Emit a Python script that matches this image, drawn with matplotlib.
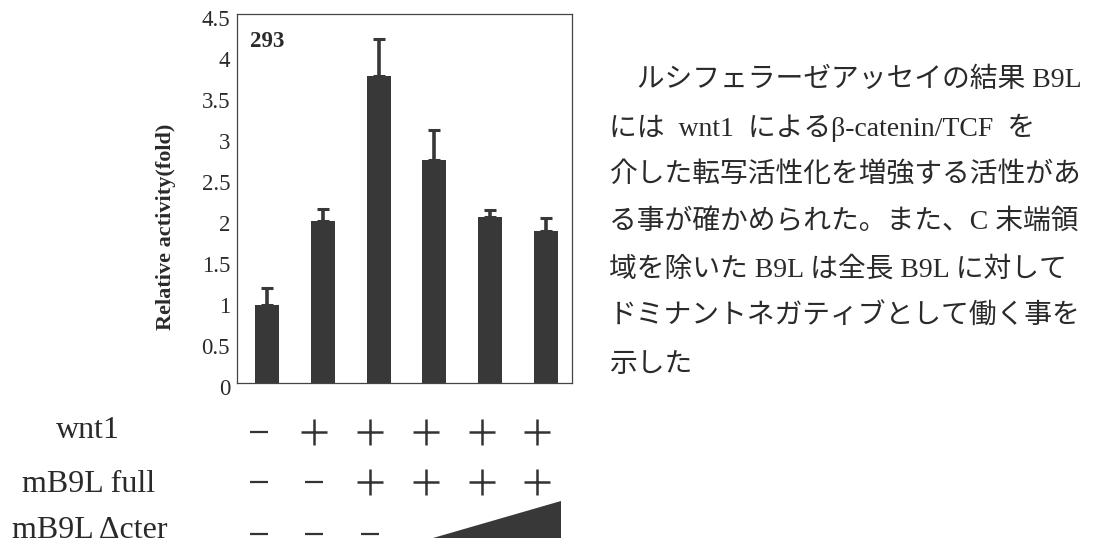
import matplotlib
matplotlib.use("Agg")
import matplotlib.pyplot as plt
from matplotlib.transforms import ScaledTranslation
from matplotlib.patches import Polygon

# ---- data ----
conditions = ["1", "2", "3", "4", "5", "6"]
relative_activity = [0.95, 1.98, 3.74, 2.72, 2.03, 1.85]
error_upper = [0.21, 0.14, 0.46, 0.37, 0.08, 0.17]
y_ticks = [0, 0.5, 1, 1.5, 2, 2.5, 3, 3.5, 4, 4.5]
y_tick_labels = ["0", "0.5", "1", "1.5", "2", "2.5", "3", "3.5", "4", "4.5"]

row_names = ["wnt1", "mB9L full", "mB9L \u0394cter"]
wnt1_row = ["-", "+", "+", "+", "+", "+"]
full_row = ["-", "-", "+", "+", "+", "+"]
dcter_row = ["-", "-", "-", "ramp", "ramp", "ramp"]

cell_line = "293"
ylabel = "Relative activity(fold)"
note_lines = [
    "\u3000ルシフェラーゼアッセイの結果 B9L",
    "には  wnt1  によるβ-catenin/TCF  を",
    "介した転写活性化を増強する活性があ",
    "る事が確かめられた。また、C 末端領",
    "域を除いた B9L は全長 B9L に対して",
    "ドミナントネガティブとして働く事を",
    "示した",
]

# ---- figure ----
W, H = 1109, 547
fig = plt.figure(figsize=(W / 100, H / 100), dpi=100)
fig.patch.set_facecolor("white")

def fx(px):
    return px / W

def fy(py):
    return 1 - py / H

serif = ["Liberation Serif", "DejaVu Serif"]
ink = "#2a2a2a"
bar_color = "#383838"

ax_left, ax_right, ax_top, ax_bottom = 237, 572, 14, 383.3
ax = fig.add_axes([fx(ax_left), fy(ax_bottom), (ax_right - ax_left) / W,
                   (ax_bottom - ax_top) / H])
x = list(range(len(conditions)))
ax.bar(x, relative_activity, width=0.43, color=bar_color, zorder=2)
ax.errorbar(x, relative_activity, yerr=[[0] * len(x), error_upper], fmt="none",
            ecolor=bar_color, elinewidth=2.6, capsize=4.5, capthick=2.2, zorder=3)
ax.set_xlim(-0.54, 5.47)
ax.set_ylim(0, 4.5)
ax.set_xticks([])
ax.set_yticks(y_ticks)
ax.set_yticklabels(y_tick_labels, fontfamily=serif, fontsize=16.5, color=ink)
ax.tick_params(axis="y", length=0, pad=5)
for lbl in ax.get_yticklabels():
    lbl.set_transform(lbl.get_transform() +
                      ScaledTranslation(0, -4 / 100, fig.dpi_scale_trans))
for side in ["left", "right", "top", "bottom"]:
    ax.spines[side].set_linewidth(0.9)
    ax.spines[side].set_color("#444444")

ax.text(0.04, 0.955, cell_line, transform=ax.transAxes, ha="left", va="top",
        fontfamily=serif, fontweight="bold", fontsize=16.5, color=ink)

fig.text(fx(166), fy(227), ylabel, rotation=90, ha="center", va="center",
         fontfamily=serif, fontweight="bold", fontsize=16, color=ink)

# ---- treatment table below the bars ----
tab = fig.add_axes([fx(ax_left), 0, (ax_right - ax_left) / W, 147 / H])
tab.set_xlim(ax.get_xlim())
tab.set_ylim(547, 400)
tab.axis("off")

row_y = [431.5, 482, 534]
label_x = [56, 22, 12]
label_y = [430, 484, 530]
sign_shift = -0.15
for ry, lx, lyy, name, row in zip(row_y, label_x, label_y, row_names,
                                  [wnt1_row, full_row, dcter_row]):
    fig.text(fx(lx), fy(lyy), name, ha="left", va="center",
             fontfamily=serif, fontsize=23, color=ink)
    ramp_cols = []
    for i, s in enumerate(row):
        if s == "+":
            tab.plot(i + sign_shift, ry, marker="+", markersize=18.5,
                     markeredgewidth=1.8, color="#333333", clip_on=False)
        elif s == "-":
            tab.plot(i + sign_shift, ry, marker="_", markersize=13,
                     markeredgewidth=1.6, color="#333333", clip_on=False)
        elif s == "ramp":
            ramp_cols.append(i)
    if ramp_cols:
        x0, x1 = ramp_cols[0] - 0.03, ramp_cols[-1] + 0.27
        tri = Polygon([(x0, ry + 4), (x1, ry + 4), (x1, ry - 33)], closed=True,
                      facecolor="#383838", edgecolor="none", clip_on=False)
        tab.add_patch(tri)

# ---- description text ----
jp_family = ["Liberation Serif", "Noto Sans CJK JP"]
line_y = [80, 128, 175, 222, 270, 317, 365]
for ly, line in zip(line_y, note_lines):
    fig.text(fx(609), fy(ly), line, ha="left", va="center",
             family=jp_family, fontsize=20, color=ink)

fig.savefig("out.png", dpi=100, facecolor="white")
